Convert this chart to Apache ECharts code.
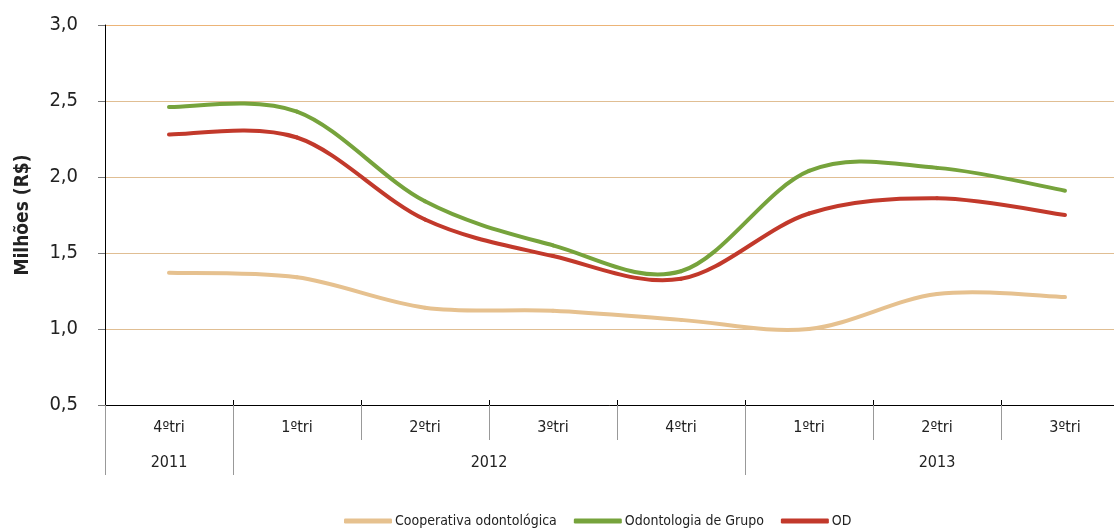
<!DOCTYPE html>
<html>
<head>
<meta charset="utf-8">
<script src="https://cdn.jsdelivr.net/npm/echarts@6/dist/echarts.min.js"></script>
<style>
html,body{margin:0;padding:0;background:#fff;}
#chart{width:1114px;height:530px;}
</style>
</head>
<body>
<div id="chart"></div>
<script>
var quarters = ['4ºtri','1ºtri','2ºtri','3ºtri','4ºtri','1ºtri','2ºtri','3ºtri'];
var years = ['2011','2012','2013'];
var yearStart = [0, 1, 5];
var yearEnd = [1, 5, 8];
var yTicks = [0.5, 1.0, 1.5, 2.0, 2.5, 3.0];
var seriesNames = ['Cooperativa odontológica','Odontologia de Grupo','OD'];
var cooperativa = [1.37, 1.34, 1.14, 1.12, 1.06, 1.00, 1.23, 1.21];
var odontoGrupo = [2.46, 2.43, 1.84, 1.55, 1.38, 2.04, 2.06, 1.91];
var od = [2.28, 2.26, 1.72, 1.48, 1.33, 1.76, 1.86, 1.75];

var FONT = "'Liberation Sans Narrow','DejaVu Sans Condensed','Roboto',sans-serif";
var colors = ['#E6C18F','#76A33C','#C2392B'];
var gridColors = ['#E0BE93','#E0BE93','#E0BE93','#E0BE93','#E0BE93','#ECB477'];

var yearCenters = years.map(function(y,i){ return (yearStart[i]+yearEnd[i])/2; });
var yearBounds = yearStart.slice();

var chart = echarts.init(document.getElementById('chart'));

// Smoothed line (Catmull-Rom style Bezier, as in spreadsheet charts), drawn through the axes' coords
function mkSeries(name, values, color){
  return {
    name: name, type: 'custom', coordinateSystem: 'cartesian2d',
    xAxisIndex: 0, yAxisIndex: 0,
    data: values.map(function(v,i){ return [i, v]; }),
    itemStyle: {color: color},
    renderItem: function(params, api){
      var i = params.dataIndex;
      var n = values.length;
      if (i >= n - 1) return null;
      var P = function(k){ k = Math.max(0, Math.min(n-1, k)); return api.coord([k, values[k]]); };
      var p0 = P(i-1), p1 = P(i), p2 = P(i+1), p3 = P(i+2);
      var c1x = p1[0] + (p2[0]-p0[0])/6, c1y = p1[1] + (p2[1]-p0[1])/6;
      var c2x = p2[0] - (p3[0]-p1[0])/6, c2y = p2[1] - (p3[1]-p1[1])/6;
      return {
        type: 'bezierCurve',
        shape: {x1: p1[0], y1: p1[1], x2: p2[0], y2: p2[1], cpx1: c1x, cpy1: c1y, cpx2: c2x, cpy2: c2y},
        style: {stroke: color, lineWidth: 4, fill: null, lineCap: 'round', lineJoin: 'round'},
        silent: true
      };
    }
  };
}
chart.setOption({
  animation: false,
  textStyle: {fontFamily: FONT},
  grid: {left: 105, width: 1024, top: 25, height: 380, containLabel: false, outerBoundsMode: 'none'},
  legend: {
    left: 344, bottom: 2, padding: 0, itemGap: 17,
    itemWidth: 48, itemHeight: 5, icon: 'roundRect',
    textStyle: {fontFamily: FONT, fontSize: 14, color: '#222', padding: [0,0,0,-2]},
    data: seriesNames.map(function(n,i){ return {name: n, itemStyle: {color: colors[i]}}; })
  },
  xAxis: [
    {
      type: 'category', data: quarters, boundaryGap: true, position: 'bottom',
      axisLine: {show: true, lineStyle: {color: '#000', width: 1}},
      axisTick: {show: true, length: 35, lineStyle: {color: '#999'}, interval: 0},
      axisLabel: {margin: 15, fontSize: 16, color: '#222', fontFamily: FONT, interval: 0},
      splitLine: {show: false}
    },
    {
      type: 'value', min: 0, max: quarters.length, position: 'bottom',
      axisLine: {show: false},
      axisTick: {show: true, length: 70, lineStyle: {color: '#999'}, customValues: yearBounds},
      axisLabel: {
        margin: 50, fontSize: 16, color: '#222', fontFamily: FONT,
        customValues: yearCenters,
        formatter: function(v){ var i = yearCenters.indexOf(v); return i >= 0 ? years[i] : ''; }
      },
      splitLine: {show: false}
    },
    {
      type: 'category', data: quarters, boundaryGap: true, position: 'bottom',
      axisLine: {show: false},
      axisTick: {show: true, inside: true, length: 5, lineStyle: {color: '#000'}, interval: 0},
      axisLabel: {show: false},
      splitLine: {show: false}
    }
  ],
  yAxis: {
    type: 'value', min: yTicks[0], max: yTicks[yTicks.length-1], interval: 0.5,
    name: 'Milhões (R$)', nameLocation: 'middle', nameGap: 72, nameRotate: 90,
    nameTextStyle: {fontFamily: FONT, fontSize: 19, fontWeight: 'bold', color: '#222'},
    axisLine: {show: true, lineStyle: {color: '#000', width: 1}},
    axisTick: {show: true, length: 7, lineStyle: {color: '#777'}},
    axisLabel: {
      margin: 27, fontSize: 20, color: '#222', fontFamily: FONT,
      formatter: function(v){ return v.toFixed(1).replace('.', ','); }
    },
    splitLine: {show: true, lineStyle: {color: gridColors, width: 1, type: 'solid'}}
  },
  series: [
    mkSeries(seriesNames[0], cooperativa, colors[0]),
    mkSeries(seriesNames[1], odontoGrupo, colors[1]),
    mkSeries(seriesNames[2], od, colors[2])
  ]
});
</script>
</body>
</html>
